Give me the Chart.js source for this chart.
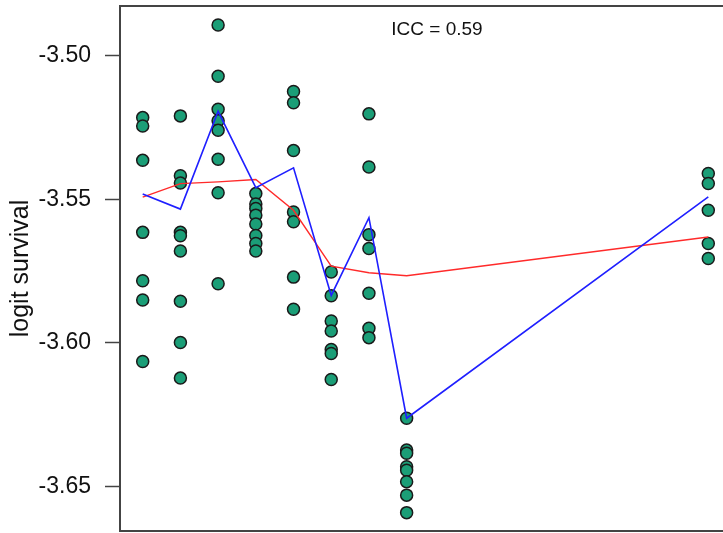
<!DOCTYPE html>
<html>
<head>
<meta charset="utf-8">
<script src="https://cdn.jsdelivr.net/npm/chart.js@4"></script>
<style>
  body { margin: 0; background: #fff; }
  #wrap { width: 723px; height: 533px; }
</style>
</head>
<body>
<div id="wrap"><canvas id="myChart"></canvas></div>
<script>
// group positions on the x axis
const groups = [1, 2, 3, 4, 5, 6, 7, 8, 16];

// observed logit survival, one list per group
const observed = [
  [-3.5215, -3.5244, -3.5364, -3.5615, -3.5784, -3.5851, -3.6065],
  [-3.5209, -3.5418, -3.5443, -3.5615, -3.5627, -3.5680, -3.5855, -3.5999, -3.6123],
  [-3.4892, -3.5071, -3.5186, -3.5226, -3.5259, -3.5360, -3.5477, -3.5794],
  [-3.5480, -3.5516, -3.5532, -3.5555, -3.5586, -3.5626, -3.5654, -3.5680],
  [-3.5124, -3.5163, -3.5330, -3.5544, -3.5578, -3.5771, -3.5883],
  [-3.5753, -3.5836, -3.5924, -3.5959, -3.6023, -3.6037, -3.6128],
  [-3.5202, -3.5387, -3.5623, -3.5671, -3.5827, -3.5949, -3.5982],
  [-3.6263, -3.6374, -3.6385, -3.6432, -3.6444, -3.6484, -3.6531, -3.6592],
  [-3.5410, -3.5445, -3.5538, -3.5654, -3.5706]
];

const blueLine = [-3.5481, -3.5534, -3.5193, -3.5459, -3.5390, -3.5835, -3.5564, -3.6263, -3.5491];
const redLine = [-3.5492, -3.5445, -3.5439, -3.5431, -3.5538, -3.5733, -3.5756, -3.5766, -3.5631];

const yTicks = [-3.65, -3.60, -3.55, -3.50];
const yTitle = 'logit survival';
const iccText = 'ICC = 0.59';

const fontFamily = '"Liberation Sans", Arial, sans-serif';

function pointsData() {
  let pts = [];
  for (let i = 0; i < groups.length; i++) {
    for (let v of observed[i]) {
      pts.push({x: groups[i], y: v});
    }
  }
  return pts;
}

function lineData(vals) {
  return groups.map((g, i) => ({x: g, y: vals[i]}));
}

// no extra room for half labels, the plot box is placed by hand
function noPadding(scale) {
  scale.paddingTop = 0;
  scale.paddingBottom = 0;
  scale.paddingLeft = 0;
  scale.paddingRight = 0;
}

const frameAndText = {
  id: 'frameAndText',
  afterDraw(chart) {
    const ctx = chart.ctx;
    const a = chart.chartArea;
    ctx.save();
    ctx.strokeStyle = '#444';
    ctx.lineWidth = 2;
    ctx.beginPath();
    ctx.moveTo(a.left, a.top);
    ctx.lineTo(a.right, a.top);
    ctx.stroke();
    ctx.fillStyle = '#111';
    ctx.font = '19px ' + fontFamily;
    ctx.textAlign = 'center';
    ctx.textBaseline = 'middle';
    ctx.fillText(iccText, 437, 30);
    ctx.restore();
  }
};

function Place() {
  const ctx = document.getElementById('myChart');
  new Chart(ctx, {
    type: 'scatter',
    data: {
      datasets: [
        {
          data: lineData(blueLine),
          type: 'line',
          borderColor: '#1f1fff',
          borderWidth: 1.6,
          pointRadius: 0,
          tension: 0,
          order: 1
        },
        {
          data: lineData(redLine),
          type: 'line',
          borderColor: '#ff2a2a',
          borderWidth: 1.4,
          pointRadius: 0,
          tension: 0,
          order: 2
        },
        {
          data: pointsData(),
          backgroundColor: '#1b9e77',
          borderColor: '#1a1a1a',
          borderWidth: 1.5,
          pointRadius: 6,
          order: 3
        }
      ]
    },
    options: {
      responsive: true,
      maintainAspectRatio: false,
      animation: false,
      layout: { autoPadding: false, padding: { top: 6, right: 0, bottom: 0, left: 0 } },
      plugins: { legend: { display: false }, tooltip: { enabled: false } },
      scales: {
        x: {
          type: 'linear',
          min: 0.398,
          max: 16.39,
          ticks: { display: false },
          grid: { display: false, drawTicks: false },
          border: { display: true, color: '#444', width: 2 },
          afterFit(scale) { scale.height = 2; noPadding(scale); }
        },
        y: {
          min: -3.6656,
          max: -3.4826,
          afterBuildTicks(scale) { scale.ticks = yTicks.map(v => ({value: v})); },
          ticks: {
            callback: v => v.toFixed(2),
            color: '#111',
            padding: 14,
            font: { family: fontFamily, size: 23 }
          },
          grid: {
            drawOnChartArea: false,
            drawTicks: true,
            tickLength: 15,
            tickWidth: 1.5,
            tickColor: '#444'
          },
          border: { display: true, color: '#444', width: 2 },
          title: {
            display: true,
            text: yTitle,
            color: '#111',
            padding: { top: 6, bottom: 0 },
            font: { family: fontFamily, size: 25 }
          },
          afterFit(scale) { scale.width = 120; noPadding(scale); }
        }
      }
    },
    plugins: [frameAndText]
  });
}

Place();
</script>
</body>
</html>
